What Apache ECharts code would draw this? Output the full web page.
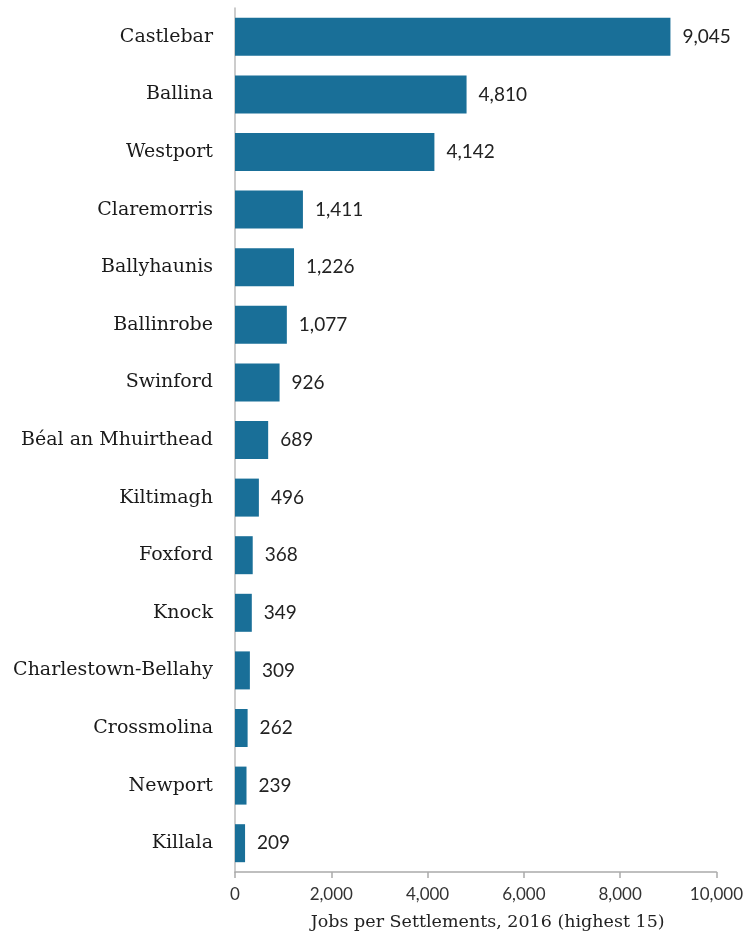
<!DOCTYPE html>
<html>
<head>
<meta charset="utf-8">
<script src="https://cdn.jsdelivr.net/npm/echarts@6/dist/echarts.min.js"></script>
<style>
  html, body { margin: 0; padding: 0; background: #fff; }
  #chart { width: 746px; height: 938px; }
</style>
</head>
<body>
<div id="chart"></div>
<script>
// settlements, top to bottom
const towns = ['Castlebar', 'Ballina', 'Westport', 'Claremorris', 'Ballyhaunis', 'Ballinrobe', 'Swinford',
    'Béal an Mhuirthead', 'Kiltimagh', 'Foxford', 'Knock', 'Charlestown-Bellahy', 'Crossmolina', 'Newport', 'Killala'];
const jobs = [9045, 4810, 4142, 1411, 1226, 1077, 926, 689, 496, 368, 349, 309, 262, 239, 209];
const xTicks = [0, 2000, 4000, 6000, 8000, 10000];

const chart = echarts.init(document.getElementById('chart'));

const fmt = v => v.toLocaleString('en-US');

chart.setOption({
    animation: false,
    grid: { left: 235, right: 28, top: 8, bottom: 66, containLabel: false },
    xAxis: {
        type: 'value',
        min: xTicks[0],
        max: xTicks[xTicks.length - 1],
        interval: 2000,
        name: 'Jobs per Settlements, 2016 (highest 15)',
        nameLocation: 'middle',
        nameGap: 41,
        nameTextStyle: { fontFamily: 'DejaVu Serif', fontSize: 17.5, color: '#222', padding: [0, 0, 0, 24] },
        axisLine: { show: true, lineStyle: { color: '#aaa', width: 1.5 } },
        axisTick: { show: true, length: 6, lineStyle: { color: '#aaa', width: 1.5 } },
        axisLabel: { fontFamily: 'Lato', fontSize: 17, color: '#333', margin: 14, formatter: fmt },
        splitLine: { show: false }
    },
    yAxis: {
        type: 'category',
        inverse: true,
        data: towns,
        axisLine: { show: true, lineStyle: { color: '#bbb', width: 1.5 } },
        axisTick: { show: false },
        axisLabel: { fontFamily: 'DejaVu Serif', fontSize: 19, color: '#1a1a1a', margin: 22 }
    },
    series: [{
        type: 'bar',
        data: jobs,
        barWidth: 38,
        itemStyle: { color: '#196f98' },
        label: {
            show: true,
            position: 'right',
            distance: 12,
            fontFamily: 'Lato',
            fontSize: 19,
            color: '#222',
            formatter: p => fmt(p.value)
        }
    }]
});
</script>
</body>
</html>
